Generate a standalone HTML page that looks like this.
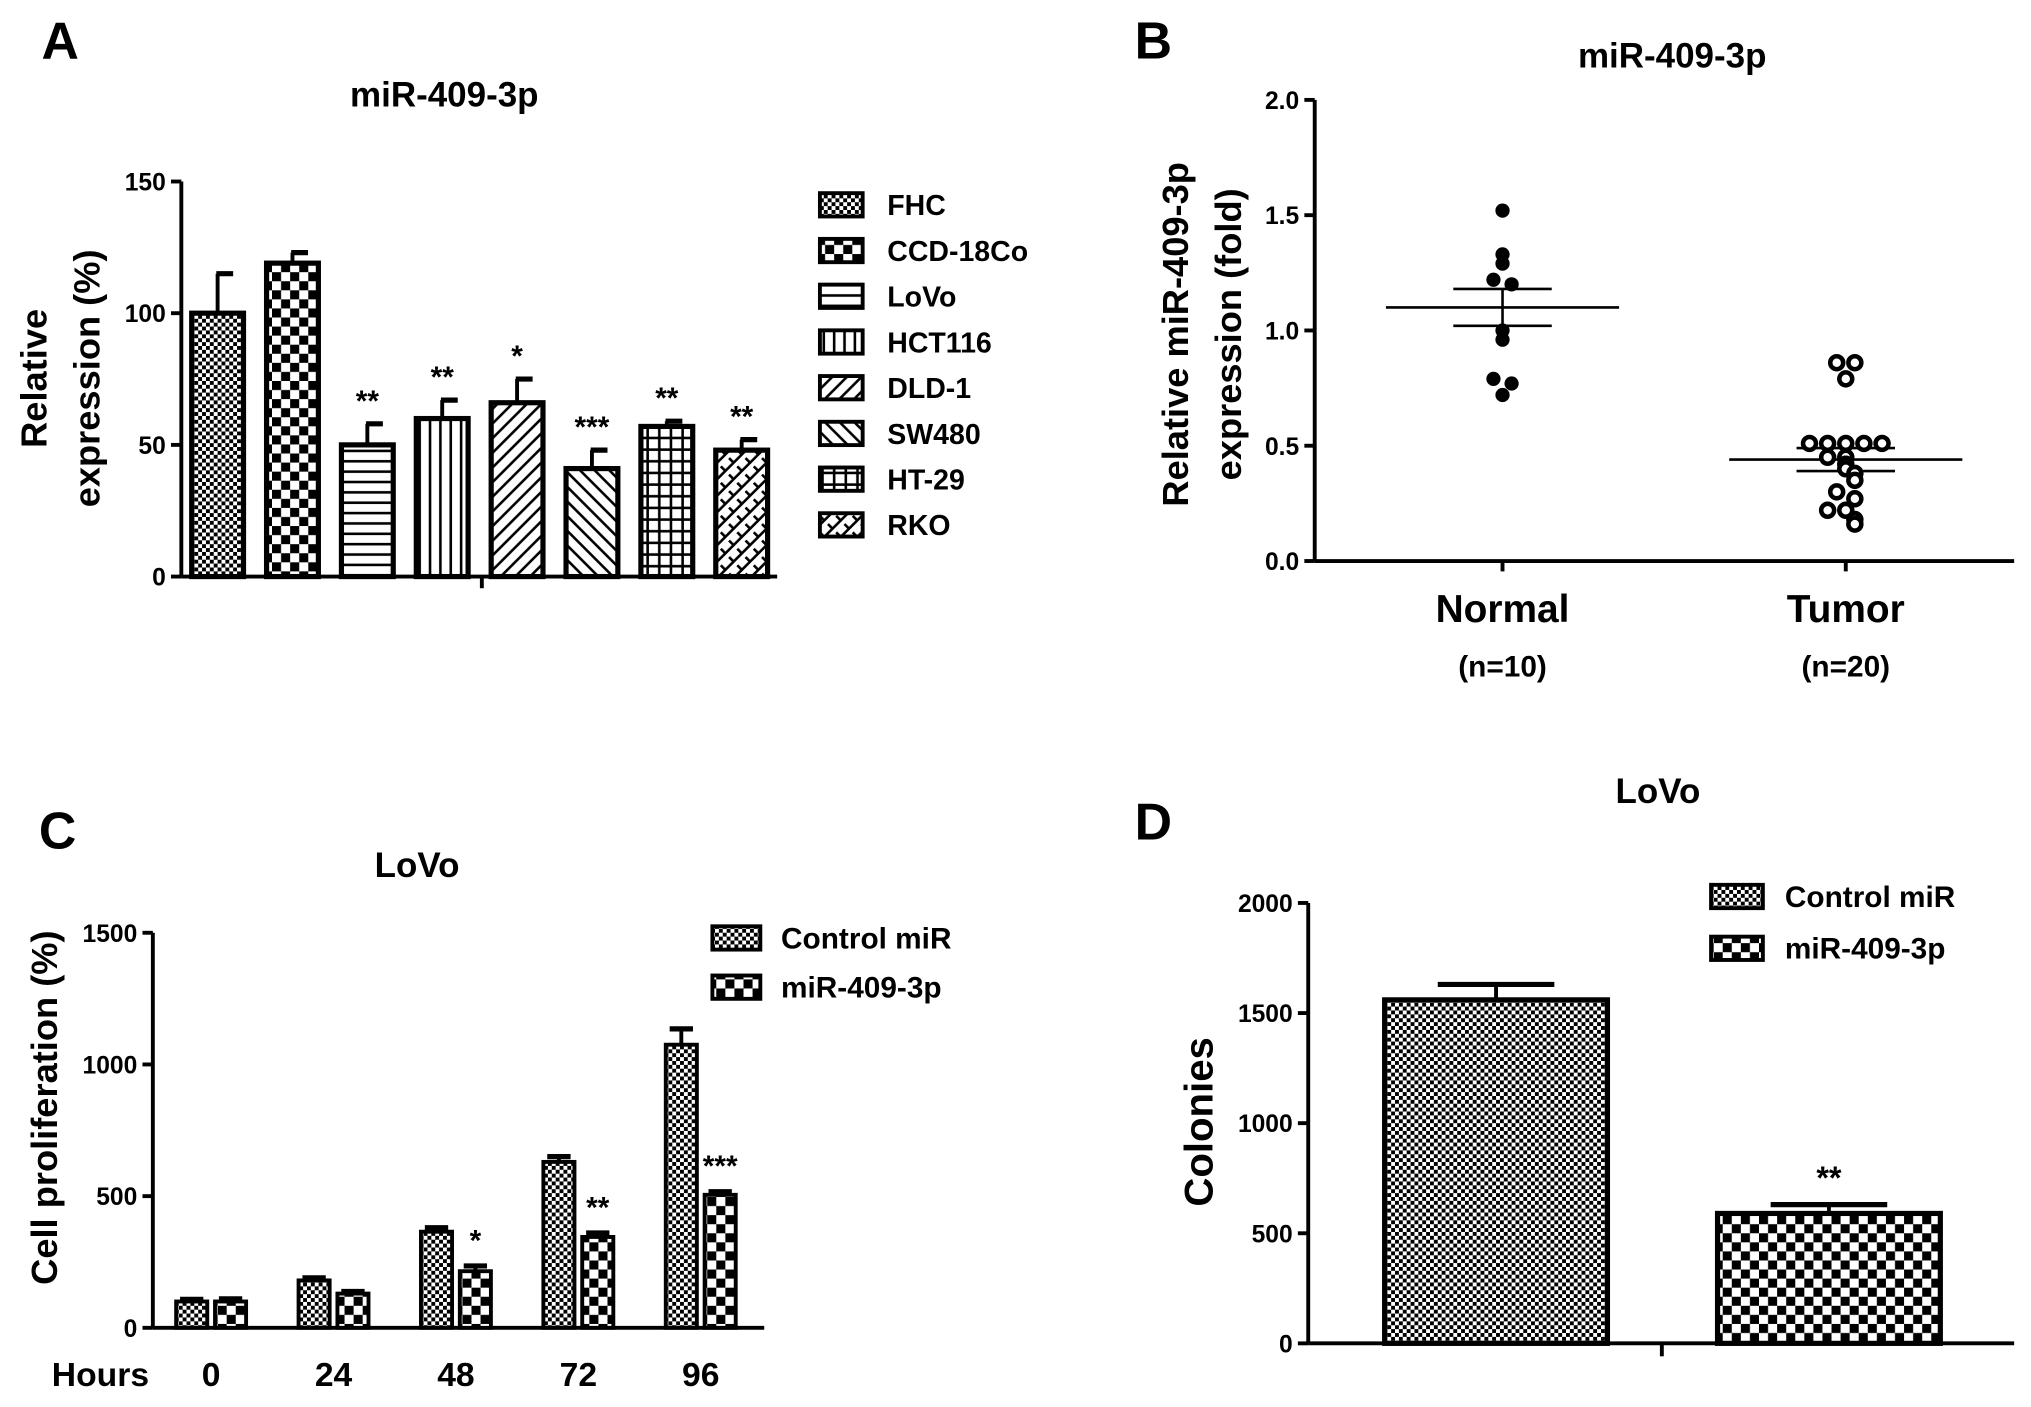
<!DOCTYPE html>
<html><head><meta charset="utf-8"><style>
html,body{margin:0;padding:0;background:#fff;}
svg{display:block;font-family:"Liberation Sans",Arial,sans-serif;font-weight:bold;}
</style></head><body>
<svg id="fig" width="2031" height="1407" viewBox="0 0 1568 1086" xmlns="http://www.w3.org/2000/svg">
<defs>
<pattern id="pFine" width="6" height="6" patternUnits="userSpaceOnUse"><rect width="6" height="6" fill="#fff"/><rect width="3" height="3" fill="#000"/><rect x="3" y="3" width="3" height="3" fill="#000"/></pattern>
<pattern id="pCheck" width="14" height="14" patternUnits="userSpaceOnUse"><rect width="14" height="14" fill="#fff"/><rect width="7" height="7" fill="#000"/><rect x="7" y="7" width="7" height="7" fill="#000"/></pattern>
<pattern id="pHor" width="8" height="8" patternUnits="userSpaceOnUse"><rect width="8" height="8" fill="#fff"/><rect y="3" width="8" height="2" fill="#000"/></pattern>
<pattern id="pVer" width="8" height="8" patternUnits="userSpaceOnUse"><rect width="8" height="8" fill="#fff"/><rect x="3" width="2" height="8" fill="#000"/></pattern>
<pattern id="pDiag1" width="8" height="8" patternUnits="userSpaceOnUse" patternTransform="rotate(45)"><rect width="8" height="8" fill="#fff"/><rect x="3" width="2" height="8" fill="#000"/></pattern>
<pattern id="pDiag2" width="8" height="8" patternUnits="userSpaceOnUse" patternTransform="rotate(-45)"><rect width="8" height="8" fill="#fff"/><rect x="3" width="2" height="8" fill="#000"/></pattern>
<pattern id="pGrid" width="9" height="9" patternUnits="userSpaceOnUse"><rect width="9" height="9" fill="#fff"/><rect x="4" width="2" height="9" fill="#000"/><rect y="4" width="9" height="2" fill="#000"/></pattern>
<pattern id="pCross" width="9" height="9" patternUnits="userSpaceOnUse" patternTransform="rotate(45)"><rect width="9" height="9" fill="#fff"/><rect x="4" width="2" height="9" fill="#000"/><rect y="4" width="5" height="2" fill="#000"/></pattern>
</defs>
<g id="root"></g>
</svg>
<script>
// Panel A data
const aCats=["FHC","CCD-18Co"," LoVo","HCT116","DLD-1","SW480","HT-29","RKO"];
const aVals=[100,119,50,60,66,41,57,48];
const aErr=[15,4,8,7,9,7,2,4];
const aStars=["","","**","**","*","***","**","**"];
const aTicks=[0,50,100,150];
// Panel B data
const bNormal=[1.52,1.33,1.29,1.22,1.20,1.00,0.96,0.79,0.77,0.72];
const bTumor=[0.86,0.86,0.79,0.51,0.51,0.51,0.51,0.51,0.45,0.45,0.42,0.40,0.38,0.35,0.30,0.27,0.22,0.22,0.18,0.16];
const bMean=[1.10,0.44];
const bSem=[0.08,0.05];
const bTicks=[0,0.5,1.0,1.5,2.0];
// Panel C data
const cHours=["0","24","48","72","96"];
const cCtrl=[100,180,365,630,1075];
const cCtrlErr=[8,10,15,20,60];
const cMir=[100,130,215,345,505];
const cMirErr=[10,8,20,15,12];
const cStars=["","","*","**","***"];
const cTicks=[0,500,1000,1500];
// Panel D data
const dCats=["Control miR","miR-409-3p"];
const dVals=[1560,590];
const dErr=[70,40];
const dTicks=[0,500,1000,1500,2000];

const NS="http://www.w3.org/2000/svg";
const root=document.getElementById('root');
function mk(tag,attrs,parent,name,txt){
  const e=document.createElementNS(NS,tag);
  for(const k in attrs)e.setAttribute(k,attrs[k]);
  
  
  if(txt!==undefined)e.textContent=txt;
  (parent||root).appendChild(e);return e;
}
function line(x1,y1,x2,y2,w,name,p){return mk('line',{x1,y1,x2,y2,stroke:'#000','stroke-width':w},p,name);}
function text(x,y,s,size,anchor,name,extra){const a=Object.assign({x,y,'font-size':size,'text-anchor':anchor||'start'},extra||{});return mk('text',a,null,name,s);}
const TS=19;

// ===== Panel A =====
text(32,45,"A",40,'start','panel-a-label');
text(343,82,"miR-409-3p",27,'middle','panel-a-title');
const aX0=140,aX1=600,aY0=445,aY1=140;
const ay=v=>aY0-(v-0)/(150)*(aY0-aY1);
const ax=i=>168+i*57.8;
const aPat=["pFine","pCheck","pHor","pVer","pDiag1","pDiag2","pGrid","pCross"];
line(aX0,aY0,aX0,aY1,3,'a-y-axis');line(aX0,aY0,aX1,aY0,3,'a-x-axis');
line(372,aY0,372,454,3,'a-x-tick');
aTicks.forEach(t=>{line(aX0-8,ay(t),aX0,ay(t),3,'a-y-tick');text(aX0-12,ay(t)+7,String(t),TS,'end','a-y-tick-label');});
mk('text',{x:0,y:0,'font-size':28,'text-anchor':'middle',transform:'translate(36,292) rotate(-90)'},null,'a-y-axis-title',"Relative");
mk('text',{x:0,y:0,'font-size':28,'text-anchor':'middle',transform:'translate(77,292) rotate(-90)'},null,'a-y-axis-title-2',"expression (%)");
aVals.forEach((v,i)=>{
  const cx=ax(i),w=40;
  line(cx,ay(v),cx,ay(v+aErr[i]),3,'a-error-bar');line(cx-1,ay(v+aErr[i]),cx+12,ay(v+aErr[i]),4,'a-error-cap');
  mk('rect',{x:cx-w/2,y:ay(v),width:w,height:aY0-ay(v),fill:'url(#'+aPat[i]+')',stroke:'#000','stroke-width':4},null,'a-bar-'+aCats[i].trim().toLowerCase());
  if(aStars[i])text(cx,ay(v+aErr[i])-10,aStars[i],23,'middle','a-significance');
});
aCats.forEach((c,i)=>{
  const y=158+i*35.3;
  mk('rect',{x:633,y:y-9,width:33,height:18,fill:'url(#'+aPat[i]+')',stroke:'#000','stroke-width':3},null,'a-legend-swatch');
  text(685,y+8,c,22,'start','a-legend-entry');
});

// ===== Panel B =====
text(876,45,"B",40,'start','panel-b-label');
text(1291,52,"miR-409-3p",27,'middle','panel-b-title');
const bX0=1015,bX1=1555,bY0=433,bY1=77;
const by=v=>bY0-v/2*(bY0-bY1);
const bCx=[1160,1425];
line(bX0,bY0,bX0,bY1,3,'b-y-axis');line(bX0,bY0,bX1,bY0,3,'b-x-axis');
bCx.forEach(c=>line(c,bY0,c,bY0+8,3,'b-x-tick'));
bTicks.forEach(t=>{line(bX0-8,by(t),bX0,by(t),3,'b-y-tick');text(bX0-12,by(t)+7,t.toFixed(1),TS,'end','b-y-tick-label');});
mk('text',{x:0,y:0,'font-size':28,'text-anchor':'middle',transform:'translate(917,258) rotate(-90)'},null,'b-y-axis-title',"Relative miR-409-3p");
mk('text',{x:0,y:0,'font-size':28,'text-anchor':'middle',transform:'translate(958,258) rotate(-90)'},null,'b-y-axis-title-2',"expression (fold)");
text(1160,480,"Normal",30,'middle','b-x-label-normal');text(1160,522,"(n=10)",23,'middle','b-x-label-normal-n');
text(1425,480,"Tumor",30,'middle','b-x-label-tumor');text(1425,522,"(n=20)",23,'middle','b-x-label-tumor-n');
[bNormal,bTumor].forEach((arr,g)=>{
  const cx=bCx[g];
  line(cx-90,by(bMean[g]),cx+90,by(bMean[g]),2,'b-mean-line');
  line(cx,by(bMean[g]-bSem[g]),cx,by(bMean[g]+bSem[g]),2,'b-sem-line');
  line(cx-38,by(bMean[g]-bSem[g]),cx+38,by(bMean[g]-bSem[g]),2,'b-sem-cap');
  line(cx-38,by(bMean[g]+bSem[g]),cx+38,by(bMean[g]+bSem[g]),2,'b-sem-cap');
  const tol=g===0?0.035:0.045;
  arr.forEach((v,i)=>{
    let k=0,n=0;arr.forEach((u,j)=>{if(Math.abs(u-v)<tol){if(j<i)k++;n++;}});
    const x=cx+(k-(n-1)/2)*14;
    if(g===0)mk('circle',{cx:x,cy:by(v),r:5.5,fill:'#000'},null,'b-point-normal');
    else mk('circle',{cx:x,cy:by(v),r:5,fill:'#fff',stroke:'#000','stroke-width':3.5},null,'b-point-tumor');
  });
});

// ===== Panel C =====
text(30,655,"C",40,'start','panel-c-label');
text(322,677,"LoVo",27,'middle','panel-c-title');
const cX0=118,cX1=590,cY0=1025,cY1=720;
const cy=v=>cY0-v/1500*(cY0-cY1);
const cx=i=>163+i*94.5;
line(cX0,cY0,cX0,cY1,3,'c-y-axis');line(cX0,cY0,cX1,cY0,3,'c-x-axis');
cTicks.forEach(t=>{line(cX0-8,cy(t),cX0,cy(t),3,'c-y-tick');text(cX0-12,cy(t)+7,String(t),TS,'end','c-y-tick-label');});
mk('text',{x:0,y:0,'font-size':28,'text-anchor':'middle',transform:'translate(44,855) rotate(-90)'},null,'c-y-axis-title',"Cell proliferation  (%)");
text(40,1070,"Hours",26,'start','c-x-axis-title');
cHours.forEach((h,i)=>{
  text(cx(i),1070,h,26,'middle','c-x-tick-label');
  [[cCtrl,cCtrlErr,-15,'pFine','c-bar-control'],[cMir,cMirErr,15,'pCheck','c-bar-mir']].forEach(([vals,errs,off,pat,nm])=>{
    const x=cx(i)+off,v=vals[i],e=errs[i];
    line(x,cy(v),x,cy(v+e),3,'c-error-bar');line(x-9,cy(v+e),x+9,cy(v+e),4,'c-error-cap');
    mk('rect',{x:x-12,y:cy(v),width:24,height:cY0-cy(v),fill:'url(#'+pat+')',stroke:'#000','stroke-width':3},null,nm);
  });
  if(cStars[i])text(cx(i)+15,cy(cMir[i]+cMirErr[i])-12,cStars[i],23,'middle','c-significance');
});
mk('rect',{x:550,y:715,width:37,height:18,fill:'url(#pFine)',stroke:'#000','stroke-width':3},null,'c-legend-swatch-control');
text(603,732,"Control miR",23,'start','c-legend-entry-control');
mk('rect',{x:550,y:753,width:37,height:18,fill:'url(#pCheck)',stroke:'#000','stroke-width':3},null,'c-legend-swatch-mir');
text(603,770,"miR-409-3p",23,'start','c-legend-entry-mir');

// ===== Panel D =====
text(876,648,"D",40,'start','panel-d-label');
text(1280,620,"LoVo",27,'middle','panel-d-title');
const dX0=1010,dX1=1555,dY0=1037,dY1=697;
const dy=v=>dY0-v/2000*(dY0-dY1);
const dx=i=>1155+i*257;
line(dX0,dY0,dX0,dY1,3,'d-y-axis');line(dX0,dY0,dX1,dY0,3,'d-x-axis');
line(1283,dY0,1283,dY0+10,3,'d-x-tick');
dTicks.forEach(t=>{line(dX0-8,dy(t),dX0,dy(t),3,'d-y-tick');text(dX0-12,dy(t)+7,String(t),TS,'end','d-y-tick-label');});
mk('text',{x:0,y:0,'font-size':31,'text-anchor':'middle',transform:'translate(936,866) rotate(-90)'},null,'d-y-axis-title',"Colonies");
const dPat=['pFine','pCheck'];
dVals.forEach((v,i)=>{
  const x=dx(i),e=dErr[i];
  line(x,dy(v),x,dy(v+e),3,'d-error-bar');line(x-45,dy(v+e),x+45,dy(v+e),4,'d-error-cap');
  mk('rect',{x:x-86,y:dy(v),width:172,height:dY0-dy(v),fill:'url(#'+dPat[i]+')',stroke:'#000','stroke-width':4},null,'d-bar-'+(i?'mir':'control'));
});
text(dx(1),dy(dVals[1]+dErr[1])-12,"**",25,'middle','d-significance');
dCats.forEach((c,i)=>{
  mk('rect',{x:1321,y:683+i*40,width:40,height:18,fill:'url(#'+dPat[i]+')',stroke:'#000','stroke-width':3},null,'d-legend-swatch');
  text(1378,700+i*40,c,23,'start','d-legend-entry');
});
</script>
</body></html>
